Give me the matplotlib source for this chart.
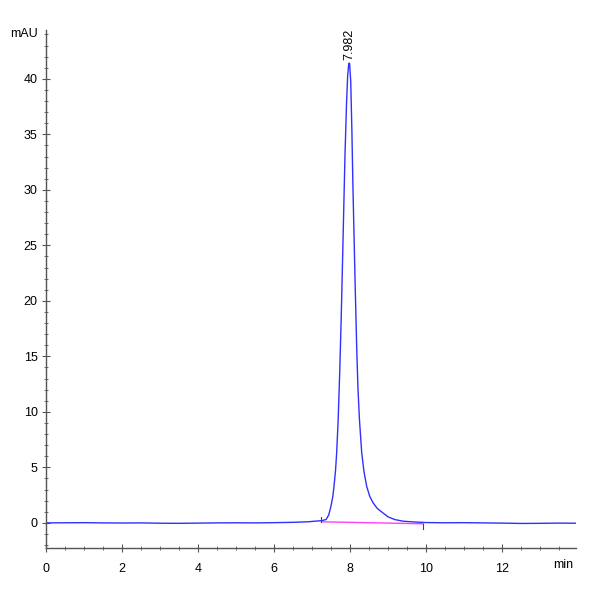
import numpy as np
import matplotlib
matplotlib.use('Agg')
import matplotlib.pyplot as plt
from matplotlib.ticker import MultipleLocator

plt.rcParams['font.family'] = ['Liberation Sans Narrow', 'Liberation Sans', 'DejaVu Sans']

# Chromatogram trace (min, mAU)
time_min = [0.0, 0.5, 1.0, 1.5, 2.0, 2.5, 3.0, 3.5, 4.0, 4.5, 5.0, 5.5, 6.0, 6.5,
            6.9, 7.1, 7.25, 7.37, 7.44, 7.50, 7.55, 7.58, 7.62, 7.65, 7.69, 7.73,
            7.77, 7.81, 7.84, 7.87, 7.91, 7.94, 7.97, 7.99, 8.02, 8.05, 8.08, 8.11,
            8.14, 8.18, 8.21, 8.25, 8.31, 8.37, 8.44, 8.52, 8.61, 8.72, 8.83, 9.0,
            9.18, 9.4, 9.7, 10.0, 10.5, 11.0, 11.5, 12.0, 12.5, 13.0, 13.5, 13.95]
signal_mau = [0.0, 0.01, 0.02, 0.0, -0.01, 0.0, -0.03, -0.04, -0.02, 0.0, 0.01, 0.0, 0.02, 0.05,
              0.1, 0.16, 0.2, 0.3, 0.7, 1.5, 2.4, 3.3, 4.7, 6.3, 9.3, 13.5,
              18.5, 24.3, 28.8, 33.2, 37.8, 40.3, 41.4, 41.4, 39.8, 35.5, 30.0, 25.5,
              21.0, 15.5, 12.2, 9.3, 6.3, 4.6, 3.3, 2.4, 1.8, 1.3, 1.0, 0.55,
              0.3, 0.15, 0.08, 0.03, 0.01, 0.02, 0.0, -0.02, -0.05, -0.04, -0.02, -0.03]

peak_rt = 7.982
peak_height = 41.5
base_start = (7.25, 0.1)
base_end = (9.93, -0.08)

fig = plt.figure(figsize=(6, 6), dpi=100)
ax = fig.add_axes([0.0767, 0.0867, 0.8833, 0.8633])

ax.plot(time_min, signal_mau, color='#3030ff', lw=1.0)
ax.plot([base_start[0], base_end[0]], [base_start[1], base_end[1]], color='#ff40ff', lw=1.0)
# integration start / end marks
ax.plot([base_start[0], base_start[0]], [base_start[1], base_start[1] + 0.45], color='#444444', lw=0.8)
ax.plot([base_end[0], base_end[0]], [base_end[1], base_end[1] - 0.5], color='#444444', lw=0.8)

ax.text(peak_rt, peak_height + 0.2, '7.982', rotation=90, ha='center', va='bottom', fontsize=9)

ax.set_xlim(0, 13.95)
ax.set_ylim(-2.26, 44.4)
ax.xaxis.set_major_locator(MultipleLocator(2))
ax.xaxis.set_minor_locator(MultipleLocator(0.5))
ax.yaxis.set_major_locator(MultipleLocator(5))
ax.yaxis.set_minor_locator(MultipleLocator(1))

for s in ['top', 'right']:
    ax.spines[s].set_visible(False)
for s in ['left', 'bottom']:
    ax.spines[s].set_color('#555555')
    ax.spines[s].set_linewidth(1.0)

ax.tick_params(which='major', direction='inout', length=6, color='#555555', labelsize=9)
ax.tick_params(which='minor', direction='inout', length=3, color='#555555')
ax.tick_params(axis='x', pad=8)
ax.tick_params(axis='y', pad=3)

ax.annotate('mAU', xy=(0, 44.0), xycoords='data', xytext=(-6, 0), textcoords='offset points',
            ha='right', va='center', fontsize=9)
ax.annotate('min', xy=(13.95, -2.26), xycoords='data', xytext=(-2, -8), textcoords='offset points',
            ha='right', va='top', fontsize=9)

fig.savefig('out.png', dpi=100)
